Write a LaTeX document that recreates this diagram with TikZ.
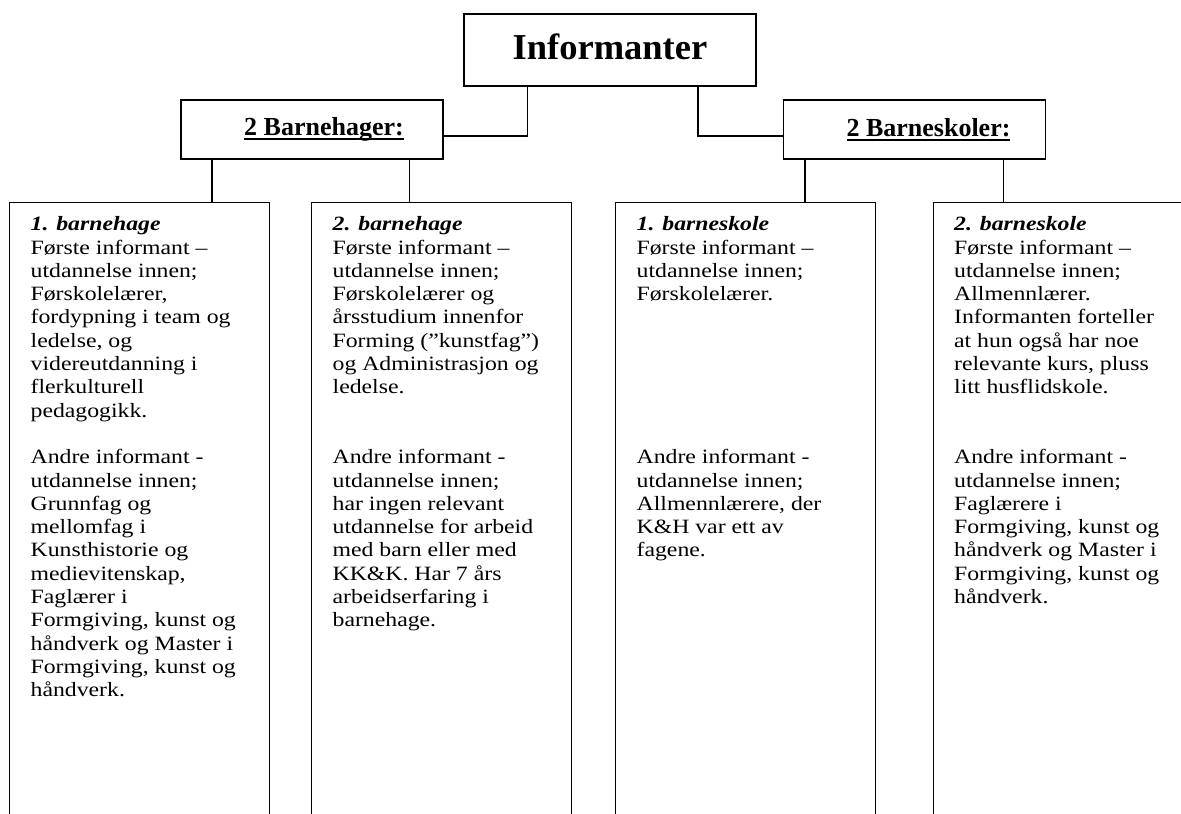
\documentclass[tikz,border=0pt]{standalone}
\usepackage{fontspec}
\setmainfont{Liberation Serif}
\newfontfamily\bodyfont[FakeStretch=1.17]{Liberation Serif}

% underline at a fixed depth, as in the word processor original
\newcommand{\ulword}[1]{\setbox0\hbox{#1}\rlap{\rule[-4pt]{\wd0}{2pt}}\box0}

\begin{document}
\begin{tikzpicture}[x=1pt, y=-1pt, line width=1.3pt,
  topbox/.style={draw, minimum width=292pt, minimum height=72pt, inner sep=0pt,
    text depth=6pt, font=\fontsize{36.5}{40}\selectfont\bfseries},
  groupbox/.style={draw, minimum width=262pt, minimum height=59pt, inner sep=0pt,
    font=\fontsize{26}{30}\selectfont\bfseries},
  unitbox/.style={draw, anchor=north west, minimum width=260pt,
    minimum height=650pt, inner sep=0pt},
  unittext/.style={anchor=north west, align=left, inner sep=0pt,
    font=\bodyfont\fontsize{20.3}{23.3}\selectfont}]

  \useasboundingbox (0,0) rectangle (1181,814);

  % === Top level ===
  \node[topbox] (inf) at (610,50) {Informanter};

  % === Groups ===
  \node[groupbox] (bh) at (312,129.5) {\hspace*{24pt}\ulword{2 Barnehager:}};
  \node[groupbox] (bs) at (914.5,129.5) {\hspace*{28pt}\ulword{2 Barneskoler:}};

  % elbows from the top box to the groups
  \coordinate (jl) at (527.7,136);
  \coordinate (jr) at (698,136);
  \draw (inf.south -| jl) -- (jl) -- (bh.east |- jl);
  \draw (inf.south -| jr) -- (jr) -- (bs.west |- jr);

  % === Units (open at the foot of the page) ===
  \node[unitbox] (bh1) at (9,202) {};
  \node[unitbox] (bh2) at (311,202) {};
  \node[unitbox] (bs1) at (615,202) {};
  \node[unitbox] (bs2) at (933,202) {};

  % drops from the groups to the units
  \coordinate (d1) at (212,0);
  \coordinate (d2) at (409.5,0);
  \coordinate (d3) at (805,0);
  \coordinate (d4) at (1003.5,0);
  \draw (bh.south -| d1) -- (bh1.north -| d1);
  \draw (bh.south -| d2) -- (bh2.north -| d2);
  \draw (bs.south -| d3) -- (bs1.north -| d3);
  \draw (bs.south -| d4) -- (bs2.north -| d4);

  % === Unit texts ===
  \node[unittext] (bh1txt) at ([shift={(21,14)}]bh1.north west) {%
    \textbf{\textit{1. barnehage}}\\
    Første informant –\\
    utdannelse innen;\\
    Førskolelærer,\\
    fordypning i team og\\
    ledelse, og\\
    videreutdanning i\\
    flerkulturell\\
    pedagogikk.\\[23.3pt]
    Andre informant -\\
    utdannelse innen;\\
    Grunnfag og\\
    mellomfag i\\
    Kunsthistorie og\\
    medievitenskap,\\
    Faglærer i\\
    Formgiving, kunst og\\
    håndverk og Master i\\
    Formgiving, kunst og\\
    håndverk.};

  \node[unittext] (bh2txt) at ([shift={(21,14)}]bh2.north west) {%
    \textbf{\textit{2. barnehage}}\\
    Første informant –\\
    utdannelse innen;\\
    Førskolelærer og\\
    årsstudium innenfor\\
    Forming (”kunstfag”)\\
    og Administrasjon og\\
    ledelse.\\[46.6pt]
    Andre informant -\\
    utdannelse innen;\\
    har ingen relevant\\
    utdannelse for arbeid\\
    med barn eller med\\
    KK\&K. Har 7 års\\
    arbeidserfaring i\\
    barnehage.};

  \node[unittext] (bs1txt) at ([shift={(21,14)}]bs1.north west) {%
    \textbf{\textit{1. barneskole}}\\
    Første informant –\\
    utdannelse innen;\\
    Førskolelærer.\\[139.8pt]
    Andre informant -\\
    utdannelse innen;\\
    Allmennlærere, der\\
    K\&H var ett av\\
    fagene.};

  \node[unittext] (bs2txt) at ([shift={(20.5,14)}]bs2.north west) {%
    \textbf{\textit{2. barneskole}}\\
    Første informant –\\
    utdannelse innen;\\
    Allmennlærer.\\
    Informanten forteller\\
    at hun også har noe\\
    relevante kurs, pluss\\
    litt husflidskole.\\[46.6pt]
    Andre informant -\\
    utdannelse innen;\\
    Faglærere i\\
    Formgiving, kunst og\\
    håndverk og Master i\\
    Formgiving, kunst og\\
    håndverk.};

\end{tikzpicture}
\end{document}
